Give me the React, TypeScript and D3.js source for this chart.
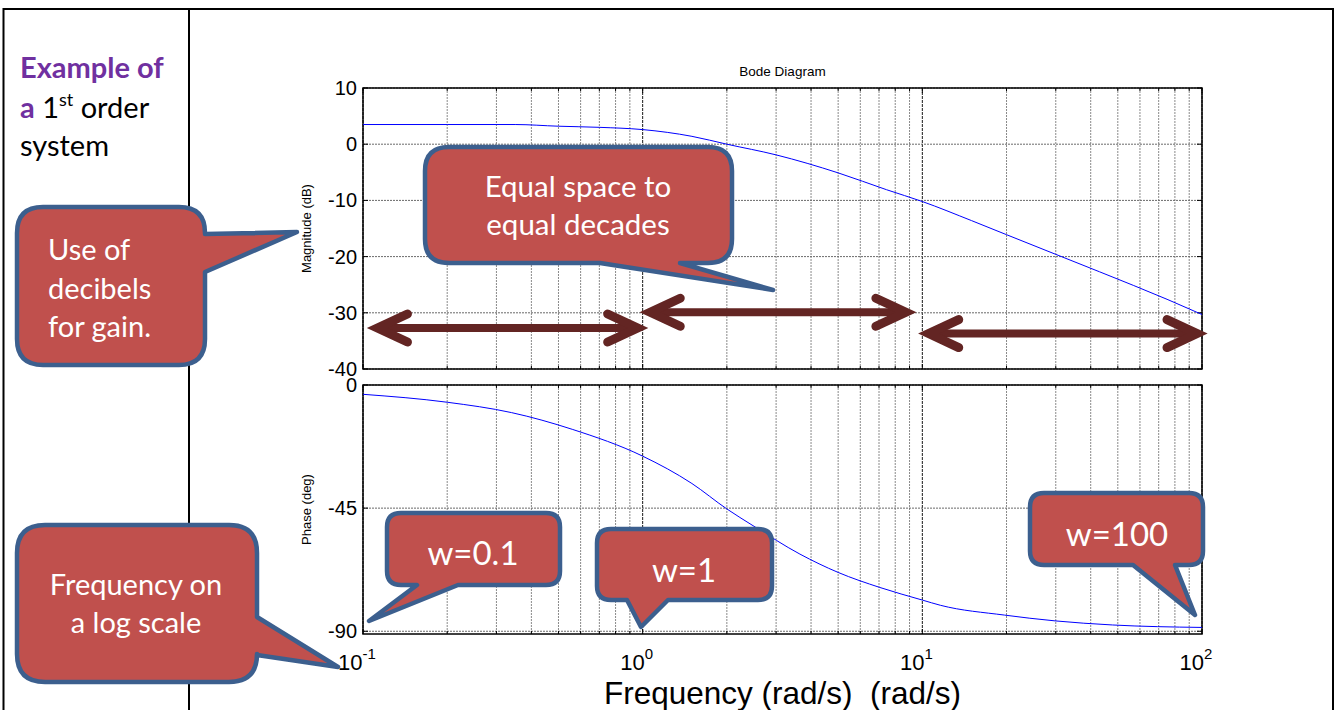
import React from 'react';
import * as d3 from 'd3';

// magnitude curve
const magFreq = [0.1, 0.2, 0.35, 0.5, 0.7, 1, 1.5, 2, 3, 5, 7.45, 10, 15, 20, 30, 43, 75, 100];
const magDb = [3.5, 3.5, 3.5, 3.2, 3.0, 2.6, 1.4, 0.0, -1.9, -5.1, -8.1, -10.2, -13.6, -16.1, -19.6, -22.7, -27.6, -30.3];

// phase curve
const phFreq = [0.1, 0.2, 0.34, 0.56, 1, 1.5, 2, 2.48, 3.65, 5, 7.05, 10, 11.6, 19.7, 29.8, 47.9, 100];
const phDeg = [-3.4, -6.3, -10.1, -16.2, -26, -36, -45.3, -51.4, -61.8, -68.5, -74, -78.6, -80.5, -84.1, -86.2, -87.7, -88.6];

const magTicks = [10, 0, -10, -20, -30, -40];
const phTicks = [0, -45, -90];
const decades = [0.1, 1, 10, 100];
const decadeExp = ['-1', '0', '1', '2'];

// double-headed arrows marking decades (in data units of the magnitude panel)
const arrowFrom = [0.109, 1.03, 10.2];
const arrowTo = [1.0, 9.1, 100];
const arrowDb = [-32.7, -29.9, -33.7];

const W = 1336;
const H = 710;
const left = 363;
const right = 1202;
const magTop = 88;
const magBottom = 369;
const phTop = 385;
const phBottom = 634;

const callFill = '#C0504D';
const callStroke = '#3C5F8E';
const arrowColor = '#632523';
const calibri = 'Lato, "Open Sans", sans-serif';
const arial = '"Liberation Sans", Arial, sans-serif';

type Tail = { side: 'right' | 'bottom'; a: number; b: number; tx: number; ty: number };

function calloutPath(x0: number, y0: number, x1: number, y1: number, r: number, t: Tail) {
  const p = d3.path();
  p.moveTo(x0 + r, y0);
  p.lineTo(x1 - r, y0);
  p.quadraticCurveTo(x1, y0, x1, y0 + r);
  if (t.side === 'right') {
    p.lineTo(x1, t.a);
    p.lineTo(t.tx, t.ty);
    p.lineTo(x1, t.b);
  }
  p.lineTo(x1, y1 - r);
  p.quadraticCurveTo(x1, y1, x1 - r, y1);
  if (t.side === 'bottom') {
    p.lineTo(t.b, y1);
    p.lineTo(t.tx, t.ty);
    p.lineTo(t.a, y1);
  }
  p.lineTo(x0 + r, y1);
  p.quadraticCurveTo(x0, y1, x0, y1 - r);
  p.lineTo(x0, y0 + r);
  p.quadraticCurveTo(x0, y0, x0 + r, y0);
  p.closePath();
  return p.toString();
}

const callouts = [
  { box: [17, 207, 205, 365], r: 26, tail: { side: 'right', a: 234, b: 272, tx: 297, ty: 232 } as Tail },
  { box: [17, 525, 257, 682], r: 28, tail: { side: 'right', a: 617, b: 655, tx: 338, ty: 667 } as Tail },
  { box: [425, 147, 732, 263], r: 24, tail: { side: 'bottom', a: 600, b: 680, tx: 773, ty: 290 } as Tail },
  { box: [387, 513, 560, 585], r: 14, tail: { side: 'bottom', a: 417, b: 458, tx: 369, ty: 621 } as Tail },
  { box: [597, 529, 772, 600], r: 14, tail: { side: 'bottom', a: 627, b: 668, tx: 641, ty: 627 } as Tail },
  { box: [1030, 493, 1203, 565], r: 14, tail: { side: 'bottom', a: 1133, b: 1175, tx: 1195, ty: 615 } as Tail },
];

export default function App() {
  const x = d3.scaleLog().domain([0.1, 100]).range([left, right]);
  const yMag = d3.scaleLinear().domain([-40, 10]).range([magBottom, magTop]);
  const yPh = d3.scaleLinear().domain([-91, 0]).range([phBottom, phTop]);

  const minor: number[] = [];
  decades.slice(0, 3).forEach((d) => {
    for (let k = 2; k <= 9; k++) minor.push(d * k);
  });

  const magLine = d3
    .line<number>()
    .x((_, i) => x(magFreq[i]))
    .y((d) => yMag(d))
    .curve(d3.curveMonotoneX)(magDb);
  const phLine = d3
    .line<number>()
    .x((_, i) => x(phFreq[i]))
    .y((d) => yPh(d))
    .curve(d3.curveMonotoneX)(phDeg);

  const panel = (top: number, bottom: number, yTicks: number[], y: (v: number) => number) => (
    <g>
      {minor.map((f) => (
        <line key={'m' + f} x1={x(f)} x2={x(f)} y1={top} y2={bottom} stroke="#8a8a8a" strokeDasharray="2 1" />
      ))}
      {decades.map((f) => (
        <line key={'d' + f} x1={x(f)} x2={x(f)} y1={top} y2={bottom} stroke="#1a1a1a" strokeDasharray="3 1" />
      ))}
      {yTicks.map((t) => (
        <line key={'h' + t} x1={left} x2={right} y1={y(t)} y2={y(t)} stroke="#6a6a6a" strokeDasharray="2 1" />
      ))}
      {minor.map((f) => (
        <g key={'mt' + f}>
          <line x1={x(f)} x2={x(f)} y1={top} y2={top + 3} stroke="#000" />
          <line x1={x(f)} x2={x(f)} y1={bottom} y2={bottom - 3} stroke="#000" />
        </g>
      ))}
      {decades.map((f) => (
        <g key={'dt' + f}>
          <line x1={x(f)} x2={x(f)} y1={top} y2={top + 5} stroke="#000" />
          <line x1={x(f)} x2={x(f)} y1={bottom} y2={bottom - 5} stroke="#000" />
        </g>
      ))}
      {yTicks.map((t) => (
        <g key={'yt' + t}>
          <line x1={left} x2={left + 5} y1={y(t)} y2={y(t)} stroke="#000" />
          <line x1={right} x2={right - 5} y1={y(t)} y2={y(t)} stroke="#000" />
        </g>
      ))}
      <rect x={left} y={top} width={right - left} height={bottom - top} fill="none" stroke="#000" strokeWidth={1.5} />
      {yTicks.map((t) => (
        <text key={'yl' + t} x={357} y={y(t)} textAnchor="end" dominantBaseline="central" fontFamily={arial} fontSize={20}>
          {t}
        </text>
      ))}
    </g>
  );

  const chevron = (tx: number, ty: number, dir: number) =>
    `M${tx + dir * 30},${ty - 14}L${tx},${ty}L${tx + dir * 30},${ty + 14}`;

  return (
    <div style={{ position: 'absolute', left: 0, top: 0 }}>
      <svg width={W} height={H} style={{ display: 'block', background: '#fff' }}>
        {/* table borders */}
        <rect x={3.5} y={9} width={1329.5} height={720} fill="none" stroke="#000" strokeWidth={2} />
        <line x1={189} x2={189} y1={9} y2={H} stroke="#000" strokeWidth={2} />

        {/* left column text */}
        <text x={20} y={78} fontFamily={calibri} fontSize={29} fontWeight="bold" fill="#7030A0">
          Example of
        </text>
        <text x={20} y={118} fontFamily={calibri} fontSize={29} fill="#000">
          <tspan fontWeight="bold" fill="#7030A0">a</tspan>
          <tspan> 1</tspan>
          <tspan fontSize={18} dy={-12}>st</tspan>
          <tspan dy={12}> order</tspan>
        </text>
        <text x={20} y={156} fontFamily={calibri} fontSize={29} fill="#000">
          system
        </text>

        {/* plots */}
        {panel(magTop, magBottom, magTicks, yMag)}
        {panel(phTop, phBottom, phTicks, yPh)}
        <path d={magLine || ''} fill="none" stroke="#0000FF" strokeWidth={1} />
        <path d={phLine || ''} fill="none" stroke="#0000FF" strokeWidth={1} />

        <text x={(left + right) / 2} y={76} textAnchor="middle" fontFamily={arial} fontSize={13.5}>
          Bode Diagram
        </text>
        <text
          transform={`translate(306,${(magTop + magBottom) / 2}) rotate(-90)`}
          textAnchor="middle"
          dominantBaseline="central"
          fontFamily={arial}
          fontSize={13}
        >
          Magnitude (dB)
        </text>
        <text
          transform={`translate(306,${(phTop + phBottom) / 2}) rotate(-90)`}
          textAnchor="middle"
          dominantBaseline="central"
          fontFamily={arial}
          fontSize={13}
        >
          Phase (deg)
        </text>
        {decades.map((f, i) => (
          <text key={'xl' + f} x={x(f) - 6} y={670} textAnchor="middle" fontFamily={arial} fontSize={22}>
            10
            <tspan fontSize={15} dy={-11}>
              {decadeExp[i]}
            </tspan>
          </text>
        ))}
        <text
          x={(left + right) / 2}
          y={704}
          textAnchor="middle"
          fontFamily={arial}
          fontSize={31.5}
          style={{ whiteSpace: 'pre' }}
        >
          {'Frequency (rad/s)  (rad/s)'}
        </text>

        {/* decade arrows */}
        {arrowFrom.map((f, i) => {
          const x0 = x(f) + 4;
          const x1 = x(arrowTo[i]) - 5;
          const yy = yMag(arrowDb[i]);
          return (
            <g key={'ar' + i} stroke={arrowColor} fill="none" strokeLinecap="round" strokeLinejoin="miter">
              <line x1={x0 + 4} x2={x1 - 4} y1={yy} y2={yy} strokeWidth={8} />
              <path d={chevron(x0, yy, 1)} strokeWidth={9} />
              <path d={chevron(x1, yy, -1)} strokeWidth={9} />
            </g>
          );
        })}

        {/* callouts */}
        {callouts.map((c, i) => (
          <path
            key={'c' + i}
            d={calloutPath(c.box[0], c.box[1], c.box[2], c.box[3], c.r, c.tail)}
            fill={callFill}
            stroke={callStroke}
            strokeWidth={4.5}
            strokeLinejoin="round"
          />
        ))}
        <g fontFamily={calibri} fill="#fff">
          <text x={48} y={260} fontSize={29}>Use of</text>
          <text x={48} y={299} fontSize={29}>decibels</text>
          <text x={48} y={337} fontSize={29}>for gain.</text>
          <text x={136} y={595} fontSize={29} textAnchor="middle">Frequency on</text>
          <text x={136} y={633} fontSize={29} textAnchor="middle">a log scale</text>
          <text x={578} y={197} fontSize={29.5} textAnchor="middle">Equal space to</text>
          <text x={578} y={235} fontSize={29.5} textAnchor="middle">equal decades</text>
          <text x={473} y={565} fontSize={33} textAnchor="middle">w=0.1</text>
          <text x={684} y={582} fontSize={33} textAnchor="middle">w=1</text>
          <text x={1117} y={546} fontSize={33} textAnchor="middle">w=100</text>
        </g>
      </svg>
    </div>
  );
}
